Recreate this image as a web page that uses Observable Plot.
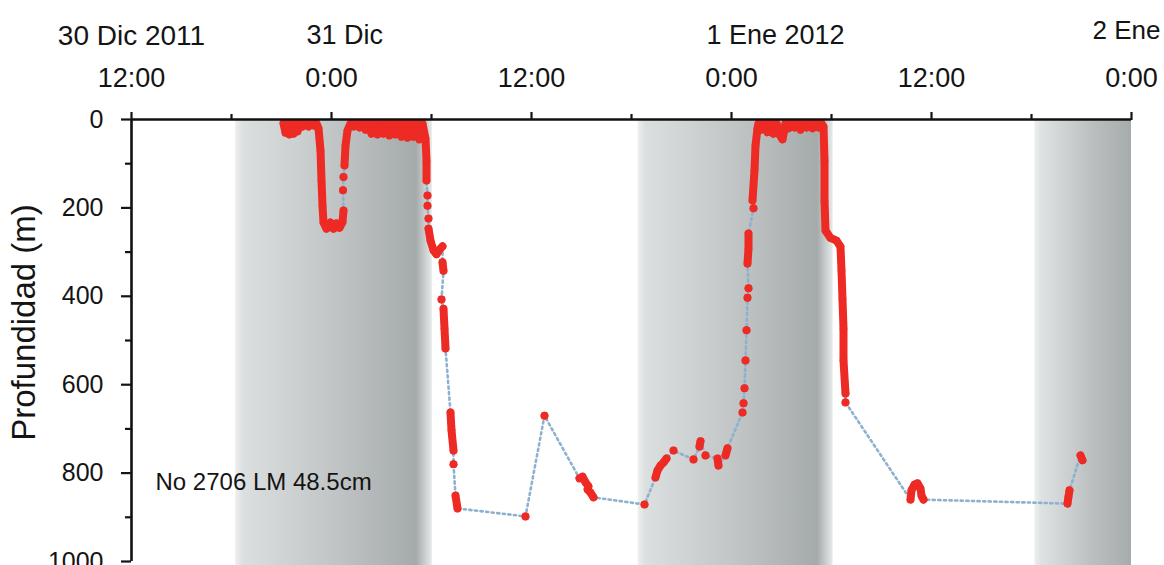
<!DOCTYPE html>
<html>
<head>
<meta charset="utf-8">
<script src="https://cdn.jsdelivr.net/npm/d3@7"></script>
<script src="https://cdn.jsdelivr.net/npm/@observablehq/plot@0.6"></script>
<style>
html, body { margin: 0; padding: 0; background: #fff; overflow: hidden; }
</style>
</head>
<body>
<div id="chart"></div>
<script>
// time is expressed in hours since 30 Dic 2011 12:00
const startUTC = Date.UTC(2011, 11, 30, 12);
const toDate = h => new Date(startUTC + h * 3600e3);

const majorHours = [0, 12, 24, 36, 48, 60];
const majorLabels = ["12:00", "0:00", "12:00", "0:00", "12:00", "0:00"];
const minorHours = [6, 18, 30, 42, 54];
const dateHours = [0, 12, 36, 60];
const dateLabels = ["30 Dic 2011", "31 Dic", "1 Ene 2012", "2 Ene"];
const depthTicks = [0, 200, 400, 600, 800, 1000];
const depthMinor = [100, 300, 500, 700, 900];
const nightStart = [6.25, 30.4, 54.2];
const nightEnd = [18.05, 42.1, 60];
const annotationText = "No 2706 LM 48.5cm";
const annotationHour = 1.44;
const annotationDepth = 821;
const yLabel = "Profundidad (m)";

// [hours, depth (m), burst id]
const track = [
  [9.12,9,1],[9.24,30,1],[9.36,9,1],[9.48,34,1],[9.60,9,1],[9.72,32,1],[9.84,9,1],[9.96,27,1],[10.08,9,1],[10.26,16,1],[10.44,9,1],[10.62,16,1],[10.80,9,1],[10.98,14,1],[11.10,9,1],[11.22,20,1],[11.34,70,1],[11.40,138,1],[11.46,195,1],[11.52,233,1],[11.70,247,1],[11.94,233,1],[12.12,247,1],[12.30,235,1],[12.48,245,1],[12.66,232,1],[12.72,206,1],
  [12.69,160,2],
  [12.72,130,3],
  [12.78,104,4],[12.84,59,4],[12.96,25,4],[13.14,9,4],[13.32,16,4],[13.50,9,4],[13.68,18,4],[13.86,9,4],[14.04,23,4],[14.22,9,4],[14.40,32,4],[14.58,9,4],[14.76,34,4],[14.94,9,4],[15.12,32,4],[15.30,9,4],[15.48,36,4],[15.66,9,4],[15.84,34,4],[16.02,9,4],[16.20,39,4],[16.38,9,4],[16.56,41,4],[16.74,9,4],[16.92,39,4],[17.10,9,4],[17.28,45,4],[17.46,9,4],[17.64,43,4],[17.70,93,4],[17.70,138,4],
  [17.76,172,5],
  [17.76,195,6],
  [17.82,224,7],
  [17.82,247,8],[17.94,274,8],[18.12,296,8],[18.30,305,8],[18.54,292,8],[18.66,287,8],
  [18.66,323,9],[18.72,342,9],
  [18.60,407,10],
  [18.72,428,11],[18.78,473,11],[18.84,518,11],
  [19.14,663,12],[19.20,703,12],[19.32,749,12],
  [19.32,780,13],
  [19.44,851,14],[19.56,880,14],
  [23.64,898,15],
  [24.78,670,16],
  [26.88,812,17],[27.06,808,17],[27.24,821,17],[27.42,830,17],[27.36,837,17],[27.54,844,17],[27.72,855,17],
  [30.78,871,18],
  [31.44,810,19],[31.56,794,19],[31.74,783,19],[31.92,776,19],[32.10,767,19],
  [32.52,749,20],
  [33.72,769,21],
  [34.08,740,22],[34.14,728,22],
  [34.44,760,23],
  [35.16,767,24],[35.22,783,24],
  [35.64,760,25],[35.76,744,25],
  [36.66,663,26],
  [36.72,642,27],
  [36.78,608,28],
  [36.84,545,29],
  [36.90,477,30],
  [36.96,403,31],
  [37.02,382,32],
  [36.96,326,33],[37.02,292,33],[37.02,258,33],
  [37.32,201,34],
  [37.26,183,35],[37.38,115,35],[37.44,59,35],[37.56,20,35],[37.62,9,35],[37.80,23,35],[37.98,9,35],[38.16,29,35],[38.34,9,35],[38.52,32,35],[38.70,9,35],[38.88,34,35],[39.06,45,35],[39.24,9,35],[39.42,20,35],[39.60,9,35],[39.78,18,35],[39.96,9,35],[40.14,23,35],[40.32,9,35],[40.50,18,35],[40.68,9,35],[40.86,20,35],[41.04,9,35],[41.22,18,35],[41.40,9,35],[41.52,16,35],[41.58,93,35],[41.58,183,35],[41.64,251,35],[41.94,268,35],[42.30,274,35],[42.54,288,35],[42.60,342,35],[42.66,407,35],[42.72,473,35],[42.72,545,35],[42.84,620,35],
  [42.84,640,36],
  [46.74,860,37],[46.80,839,37],[46.98,826,37],[47.16,823,37],[47.34,835,37],[47.40,851,37],[47.52,860,37],
  [56.16,869,38],[56.22,853,38],[56.28,839,38],
  [56.94,760,39],[57.06,771,39]
];

const red = "#ee2a24";
const font = "'Liberation Sans', Arial, Helvetica, sans-serif";
const bands = nightStart.map((s, i) => ({s, e: nightEnd[i], i}));
const X = d => toDate(d[0]);
const Y = d => d[1];

const chart = Plot.plot({
  width: 1164,
  height: 565,
  marginLeft: 131,
  marginRight: 33,
  marginTop: 119,
  marginBottom: 4,
  style: {fontFamily: font, color: "#141414", background: "white", overflow: "visible"},
  x: {type: "utc", domain: [toDate(0), toDate(60)]},
  y: {domain: [0, 1000], reverse: true},
  marks: [
    Plot.rect(bands, {filter: d => d.i < bands.length - 1, x1: d => toDate(d.s), x2: d => toDate(d.e), y1: () => 0, y2: () => 1012, fill: "url(#night)"}),
    Plot.rect(bands, {filter: d => d.i === bands.length - 1, x1: d => toDate(d.s), x2: d => toDate(d.e), y1: () => 0, y2: () => 1012, fill: "url(#nightEdge)"}),
    Plot.line(track, {x: X, y: Y, stroke: "#8db1cf", strokeWidth: 2.6, strokeDasharray: "2.2,3.4"}),
    Plot.line(track, {x: X, y: Y, z: d => d[2], stroke: red, strokeWidth: 8, strokeLinecap: "round", strokeLinejoin: "round"}),
    Plot.dot(track, {x: X, y: Y, r: 3.8, fill: red}),
    Plot.ruleY([0], {stroke: "#111", strokeWidth: 2.6}),
    Plot.ruleX([toDate(0)], {stroke: "#111", strokeWidth: 2.6}),
    Plot.axisY({ticks: depthTicks, tickSize: 10, tickPadding: 18, tickFormat: d => String(d), fontSize: 25, strokeWidth: 2.2, label: null}),
    Plot.axisY({ticks: depthMinor, tickSize: 6, tickFormat: () => "", strokeWidth: 2.2, label: null}),
    Plot.axisX({anchor: "top", ticks: majorHours.map(toDate), tickSize: 8, tickFormat: () => "", strokeWidth: 2.2, label: null}),
    Plot.axisX({anchor: "top", ticks: minorHours.map(toDate), tickSize: 6, tickFormat: () => "", strokeWidth: 2.2, label: null}),
    Plot.text(majorHours, {x: toDate, text: (d, i) => majorLabels[i], frameAnchor: "top", lineAnchor: "middle", dy: -41, fontSize: 27}),
    Plot.text(dateHours, {filter: (d, i) => i === 0, x: toDate, text: (d, i) => dateLabels[i], frameAnchor: "top", lineAnchor: "middle", dy: -83, fontSize: 28}),
    Plot.text(dateHours, {filter: (d, i) => i > 0 && i < dateHours.length - 1, x: toDate, text: (d, i) => dateLabels[i], textAnchor: "start", dx: -25, frameAnchor: "top", lineAnchor: "middle", dy: -84, fontSize: 27}),
    Plot.text(dateHours, {filter: (d, i) => i === dateHours.length - 1, x: toDate, text: (d, i) => dateLabels[i], textAnchor: "end", dx: 29, frameAnchor: "top", lineAnchor: "middle", dy: -89, fontSize: 26}),
    Plot.text([annotationText], {x: () => toDate(annotationHour), y: () => annotationDepth, text: d => d, textAnchor: "start", lineAnchor: "middle", fontSize: 24}),
    Plot.text([yLabel], {text: d => d, frameAnchor: "left", textAnchor: "middle", lineAnchor: "middle", rotate: -90, dx: -107, dy: -18, fontSize: 33})
  ]
});

d3.select(chart).insert("defs", ":first-child").html(`
  <linearGradient id="night" x1="0" x2="1" y1="0" y2="0">
    <stop offset="0" stop-color="#eef0f0"/>
    <stop offset="0.04" stop-color="#dcdfdf"/>
    <stop offset="0.5" stop-color="#c1c5c5"/>
    <stop offset="0.92" stop-color="#a5aaaa"/>
    <stop offset="1" stop-color="#e8eaea"/>
  </linearGradient>
  <linearGradient id="nightEdge" x1="0" x2="1" y1="0" y2="0">
    <stop offset="0" stop-color="#eef0f0"/>
    <stop offset="0.07" stop-color="#dfe2e2"/>
    <stop offset="0.6" stop-color="#bbbfbf"/>
    <stop offset="1" stop-color="#a6abab"/>
  </linearGradient>`);

document.getElementById("chart").appendChild(chart);
</script>
</body>
</html>
